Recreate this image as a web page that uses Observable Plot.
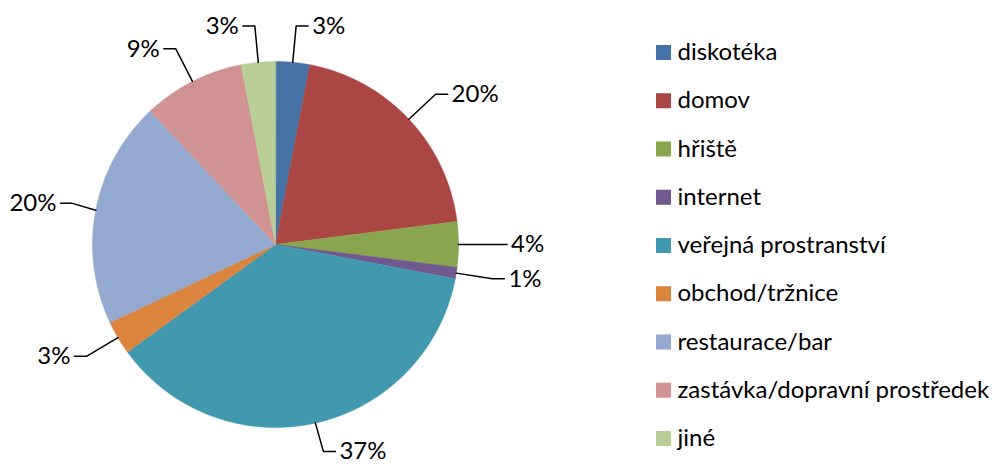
<!DOCTYPE html>
<html>
<head>
<meta charset="utf-8">
<script src="https://cdn.jsdelivr.net/npm/d3@7"></script>
<script src="https://cdn.jsdelivr.net/npm/@observablehq/plot@0.6"></script>
<style>
  html, body { margin: 0; padding: 0; background: #fff; }
  #chart svg { display: block; }
</style>
</head>
<body>
<div id="chart"></div>
<script>
// ---- data ----
const categories = ["diskotéka", "domov", "hřiště", "internet", "veřejná prostranství", "obchod/tržnice", "restaurace/bar", "zastávka/dopravní prostředek", "jiné"];
const shares = [3, 20, 4, 1, 37, 3, 20, 9, 3];
const shareLabels = ["3%", "20%", "4%", "1%", "37%", "3%", "20%", "9%", "3%"];
const colors = ["#4572A7", "#AA4643", "#89A54E", "#71588F", "#4198AF", "#DB843D", "#93A9CF", "#D19392", "#B9CD96"];

// ---- layout ----
const W = 1003, H = 469;
const cx = 275, cy = 244, R = 183;
const elbowR = R * 1.2, hook = 12, gap = 4;
const minElbowX = 72, maxElbowY = 451, minElbowY = 24;
const legendX = 663, legendY0 = 52, legendStep = 48.25, legendTextX = 677;
const font = "Lato, 'Open Sans', sans-serif";
const fontSize = 24;

const arcs = d3.pie().sort(null).value(d => d)(shares);
const pt = (a, r) => [cx + r * Math.sin(a), cy - r * Math.cos(a)];

const slices = arcs.map((a, i) => {
  const n = Math.max(4, Math.ceil((a.endAngle - a.startAngle) / 0.004));
  const ring = [[cx, cy]];
  for (let k = 0; k <= n; ++k) ring.push(pt(a.startAngle + (a.endAngle - a.startAngle) * k / n, R));
  ring.push([cx, cy]);
  return {type: "Feature", properties: {category: categories[i]}, geometry: {type: "Polygon", coordinates: [ring]}};
});

const leaders = [];
const labelData = [];
arcs.forEach((a, i) => {
  const m = (a.startAngle + a.endAngle) / 2;
  const p0 = pt(m, R), p1 = pt(m, elbowR);
  const side = p1[0] >= cx ? 1 : -1;
  // keep labels inside the frame
  if (side < 0) p1[0] = Math.max(p1[0], minElbowX);
  p1[1] = Math.min(Math.max(p1[1], minElbowY), maxElbowY);
  const p2 = [p1[0] + side * hook, p1[1]];
  [p0, p1, p2].forEach(p => leaders.push({category: categories[i], x: p[0], y: p[1]}));
  labelData.push({side, x: p2[0] + side * gap, y: p2[1], text: shareLabels[i]});
});

const legend = categories.map((c, i) => ({category: c, x: legendX, y: legendY0 + i * legendStep}));

const chart = Plot.plot({
  width: W,
  height: H,
  margin: 0,
  style: {fontFamily: font, background: "#fff"},
  projection: {type: "identity", domain: {type: "Polygon", coordinates: [[[0, 0], [W, 0], [W, H], [0, H], [0, 0]]]}},
  color: {domain: categories, range: colors},
  marks: [
    Plot.geo(slices, {fill: d => d.properties.category, stroke: d => d.properties.category, strokeWidth: 0.5}),
    Plot.line(leaders, {x: "x", y: "y", z: "category", stroke: "#000", strokeWidth: 1.5, curve: "linear"}),
    Plot.text(labelData.filter(d => d.side > 0), {x: "x", y: "y", text: "text", textAnchor: "start", fontSize, fontFamily: font, fill: "#000"}),
    Plot.text(labelData.filter(d => d.side < 0), {x: "x", y: "y", text: "text", textAnchor: "end", fontSize, fontFamily: font, fill: "#000"}),
    Plot.dot(legend, {x: "x", y: "y", symbol: "square", r: 8.5, fill: "category", stroke: null}),
    Plot.text(legend, {x: d => legendTextX, y: "y", text: "category", textAnchor: "start", fontSize, fontFamily: font, fill: "#000"})
  ]
});
document.getElementById("chart").appendChild(chart);
</script>
</body>
</html>
